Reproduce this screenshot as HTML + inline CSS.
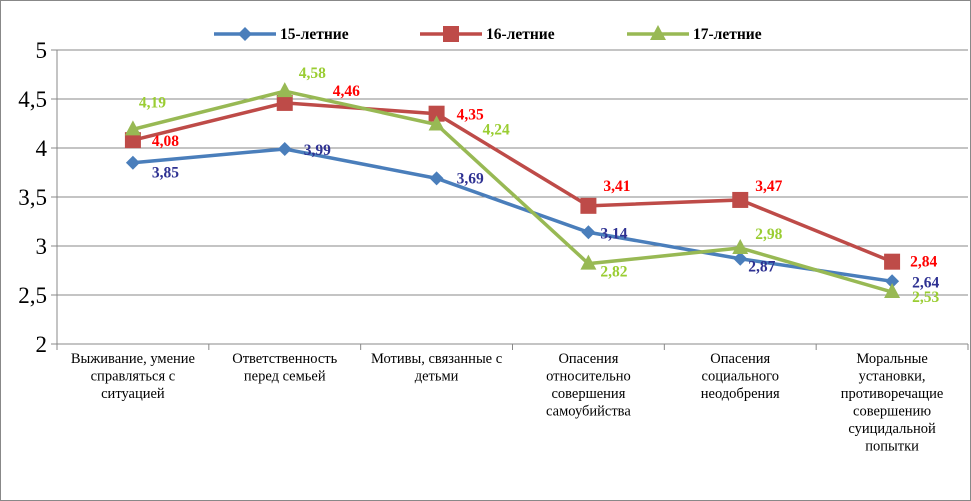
<!DOCTYPE html>
<html><head><meta charset="utf-8"><style>
body{margin:0;background:#fff}
svg{display:block;font-family:"Liberation Serif",serif}
</style></head><body>
<svg width="971" height="501" id="c">
<rect x="0.5" y="0.5" width="970" height="500" fill="#fff" stroke="#888"/>
</svg>
<script>
const categories=[["Выживание, умение","справляться с","ситуацией"],["Ответственность","перед семьей"],["Мотивы, связанные с","детьми"],["Опасения","относительно","совершения","самоубийства"],["Опасения","социального","неодобрения"],["Моральные","установки,","противоречащие","совершению","суицидальной","попытки"]];
const s15=[3.85,3.99,3.69,3.14,2.87,2.64];
const s16=[4.08,4.46,4.35,3.41,3.47,2.84];
const s17=[4.19,4.58,4.24,2.82,2.98,2.53];
const yTicks=[2,2.5,3,3.5,4,4.5,5];
const seriesNames=["15-летние","16-летние","17-летние"];
const NS="http://www.w3.org/2000/svg",svg=document.getElementById('c');
const L=57,R=968,T=50,B=344,ymin=2,ymax=5;
const bw=(R-L)/categories.length;
const x=i=>L+bw*(i+0.5), y=v=>B-(v-ymin)/(ymax-ymin)*(B-T);
function el(t,a,p){const e=document.createElementNS(NS,t);for(const k in a)e.setAttribute(k,a[k]);(p||svg).appendChild(e);return e;}
const fmt=v=>v.toFixed(2).replace('.',',');
yTicks.forEach(v=>{
 const g=el('line',{x1:L,x2:R,y1:y(v),y2:y(v),stroke:'#888','stroke-width':1});
 
 
 el('line',{x1:L-6,x2:L,y1:y(v),y2:y(v),stroke:'#888'});
 const t=el('text',{x:L-10,y:y(v)+8,'text-anchor':'end','font-size':23});
 t.textContent=String(v).replace('.',',');
 
 
});
el('line',{x1:L,x2:L,y1:T,y2:B,stroke:'#888'});
for(let i=0;i<=categories.length;i++)el('line',{x1:L+bw*i,x2:L+bw*i,y1:B,y2:B+6,stroke:'#888'});
categories.forEach((c,i)=>{
 const t=el('text',{x:x(i),y:363,'text-anchor':'middle','font-size':14.5});
 
 
 c.forEach((ln,j)=>{const s=el('tspan',{x:x(i),dy:j?17.5:0},t);s.textContent=ln;});
});
const colors=['#4a7ebb','#be4b48','#98b954'];
const lblCol=['#2e3192','#ff0000','#9acd32'];
const offs=[[[19,15],[19,6],[20,5],[12,6],[8,13],[20,6]],[[19,6],[48,-7],[20,6],[15,-15],[15,-9],[18,5]],[[6,-22],[14,-13],[46,10],[12,13],[15,-9],[20,10]]];
function marker(k,cx,cy){
 let m;
 if(k===0)m=el('polygon',{points:`${cx},${cy-7} ${cx+7},${cy} ${cx},${cy+7} ${cx-7},${cy}`,fill:colors[0]});
 else if(k===1)m=el('rect',{x:cx-8,y:cy-8,width:16,height:16,fill:colors[1]});
 else m=el('polygon',{points:`${cx},${cy-9} ${cx+8},${cy+6} ${cx-8},${cy+6}`,fill:colors[2]});
 return m;
}
[s15,s16,s17].forEach((s,k)=>{
 const p=el('polyline',{points:s.map((v,i)=>x(i)+','+y(v)).join(' '),fill:'none',stroke:colors[k],'stroke-width':3.5});
 
 
 s.forEach((v,i)=>{
  const m=marker(k,x(i),y(v));
  
  
  const t=el('text',{x:x(i)+offs[k][i][0],y:y(v)+offs[k][i][1],'font-size':15.5,'font-weight':'bold',fill:lblCol[k]});
  t.textContent=fmt(v);
  
  
 });
});
const lx=[214,420,627];
seriesNames.forEach((n,k)=>{
 const g=el('g',{});
 
 
 el('line',{x1:lx[k],x2:lx[k]+62,y1:34,y2:34,stroke:colors[k],'stroke-width':3.5},g);
 const m=marker(k,lx[k]+31,34);g.appendChild(m);
 const t=el('text',{x:lx[k]+66,y:39,'font-size':15.5,'font-weight':'bold'},g);t.textContent=n;
});
</script>
</body></html>
